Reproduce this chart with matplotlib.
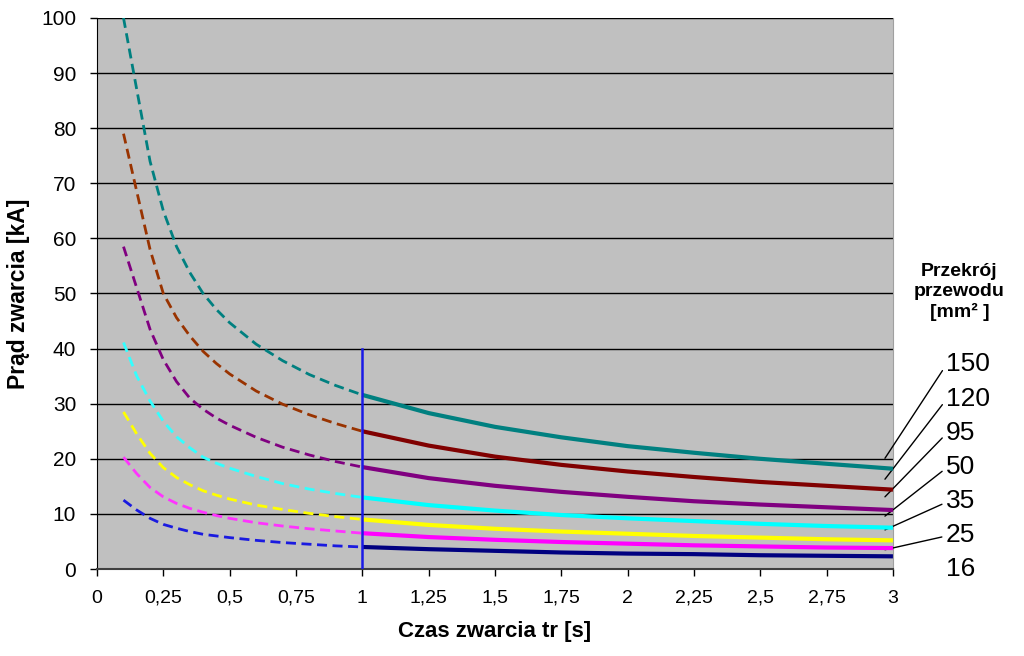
"""
Prąd zwarcia vs czas zwarcia dla różnych przekrojów przewodu.
Writes out.png
"""

import matplotlib
matplotlib.use("Agg")
import matplotlib.pyplot as plt
from matplotlib.ticker import FuncFormatter

plt.rcParams["font.family"] = ["Liberation Sans", "DejaVu Sans"]

# czas [s] - część przerywana (t < 1) i ciągła (t >= 1)
T_DASH  = [0.1, 0.15, 0.2, 0.25, 0.3, 0.35, 0.4, 0.45, 0.5, 0.6, 0.7, 0.8, 0.9, 1.0]
T_SOLID = [1.0, 1.25, 1.5, 1.75, 2.0, 2.25, 2.5, 2.75, 3.0]

SECTIONS = ["150", "120", "95", "50", "35", "25", "16"]

# prąd zwarcia [kA]
I_DASH = {
    "150": [100.0, 87.0, 74.0, 65.0, 58.5, 53.8, 50.0, 47.1, 44.7, 40.8, 37.8, 35.3, 33.3, 31.6],
    "120": [79.0, 68.5, 58.0, 50.0, 45.6, 42.3, 39.5, 37.3, 35.4, 32.3, 29.9, 28.0, 26.4, 25.0],
    "95":  [58.5, 51.0, 43.5, 38.0, 34.0, 31.0, 29.0, 27.4, 26.1, 23.9, 22.1, 20.7, 19.5, 18.5],
    "50":  [41.1, 35.0, 30.5, 26.8, 24.0, 22.0, 20.3, 19.2, 18.3, 16.8, 15.5, 14.5, 13.7, 13.0],
    "35":  [28.5, 24.5, 21.0, 18.4, 16.6, 15.3, 14.2, 13.4, 12.7, 11.6, 10.8, 10.1, 9.5, 9.0],
    "25":  [20.3, 17.3, 14.8, 13.1, 11.9, 11.0, 10.3, 9.7, 9.2, 8.4, 7.8, 7.3, 6.9, 6.5],
    "16":  [12.5, 10.7, 9.2, 8.1, 7.4, 6.8, 6.3, 6.0, 5.7, 5.2, 4.8, 4.5, 4.2, 4.0],
}
I_SOLID = {
    "150": [31.6, 28.3, 25.8, 23.9, 22.3, 21.1, 20.0, 19.1, 18.2],
    "120": [25.0, 22.4, 20.4, 18.9, 17.7, 16.7, 15.8, 15.1, 14.4],
    "95":  [18.5, 16.5, 15.1, 14.0, 13.1, 12.3, 11.7, 11.2, 10.7],
    "50":  [13.0, 11.6, 10.6, 9.8, 9.2, 8.7, 8.2, 7.8, 7.5],
    "35":  [9.0, 8.0, 7.3, 6.8, 6.4, 6.0, 5.7, 5.4, 5.2],
    "25":  [6.5, 5.8, 5.3, 4.9, 4.6, 4.3, 4.1, 3.9, 3.8],
    "16":  [4.0, 3.6, 3.3, 3.0, 2.8, 2.7, 2.5, 2.4, 2.3],
}

# etykiety po prawej: pozycja tekstu i koniec linii odniesienia [kA]
LABEL_Y  = [37.2, 30.9, 24.7, 18.5, 12.3, 6.2, 0.0]
LEADER_Y = [20.1, 16.3, 13.1, 9.6, 7.1, 3.5, None]

COL_DASH = {
    "150": "#008080", "120": "#993300", "95": "#800080", "50": "#33FFFF",
    "35": "#FFFF00", "25": "#FF33FF", "16": "#1A1AE0",
}
COL_SOLID = {
    "150": "#008080", "120": "#800000", "95": "#800080", "50": "#00FFFF",
    "35": "#FFFF00", "25": "#FF00FF", "16": "#000080",
}


def comma(v, _):
    s = f"{v:g}"
    return s.replace(".", ",")


fig = plt.figure(figsize=(10.24, 6.56), dpi=100, facecolor="white")
ax = fig.add_axes([0.0947, 0.1326, 0.7773, 0.84])
ax.set_facecolor("#C0C0C0")

for s in SECTIONS:
    ax.plot(T_DASH, I_DASH[s], color=COL_DASH[s], lw=2.0,
            linestyle=(0, (3.6, 2.0)), zorder=3)
    ax.plot(T_SOLID, I_SOLID[s], color=COL_SOLID[s], lw=3.0,
            solid_capstyle="butt", zorder=4)

ax.plot([1, 1], [0, 40], color="#1A1AE6", lw=1.8, zorder=5)

ax.set_xlim(0, 3)
ax.set_ylim(0, 100)
ax.set_xticks([i * 0.25 for i in range(13)])
ax.set_yticks(range(0, 101, 10))
ax.xaxis.set_major_formatter(FuncFormatter(comma))
ax.grid(axis="y", color="black", linewidth=1.0, zorder=1)
ax.set_axisbelow(True)

ax.tick_params(axis="both", direction="out", length=5, width=1, colors="black")
ax.tick_params(axis="x", pad=10, labelsize=14)
ax.tick_params(axis="y", pad=10, labelsize=15)
ax.spines["left"].set_color("black")
ax.spines["bottom"].set_color("#404040")
ax.spines["bottom"].set_linewidth(1.5)
ax.spines["top"].set_visible(False)
ax.spines["right"].set_color("#A0A0A0")

ax.set_xlabel("Czas zwarcia tr [s]", fontsize=16, fontweight="bold", labelpad=10)
ax.set_ylabel("Prąd zwarcia [kA]", fontsize=16.5, fontweight="bold", labelpad=8)

fig.text(0.937, 0.555, "Przekrój\nprzewodu\n[mm² ]", ha="center", va="center",
         fontsize=14, fontweight="bold", linespacing=1.25)

for s, ty, ly in zip(SECTIONS, LABEL_Y, LEADER_Y):
    if ly is None:
        ax.annotate(s, xy=(3.2, ty), ha="left", va="center", fontsize=19,
                    annotation_clip=False)
    else:
        ax.annotate(s, xy=(2.97, ly), xytext=(3.2, ty), ha="left", va="center",
                    fontsize=19, annotation_clip=False,
                    arrowprops=dict(arrowstyle="-", color="black", lw=1.0,
                                    shrinkA=1, shrinkB=0, relpos=(0, 0.45)))

fig.savefig("out.png", dpi=100, facecolor="white")
plt.close()
